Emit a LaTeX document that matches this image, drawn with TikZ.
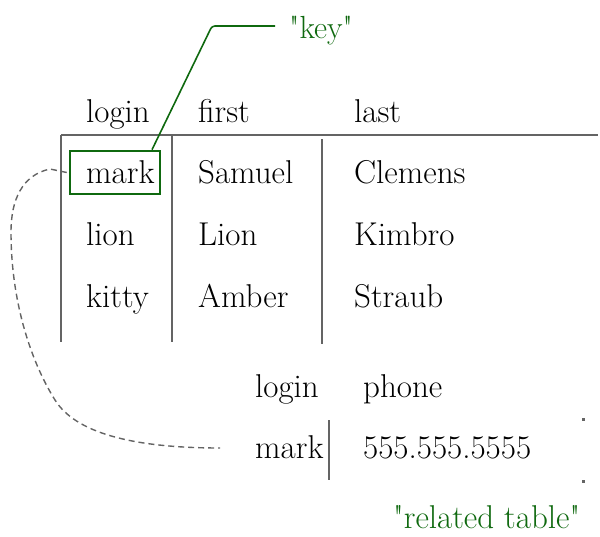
\documentclass[tikz,border=0pt]{standalone}
\definecolor{keygreen}{RGB}{15,105,15}
\definecolor{rulegray}{RGB}{100,100,100}
\tikzset{
  cell/.style={anchor=base west, inner sep=0pt, font=\fontsize{33}{39}\selectfont},
  note/.style={anchor=base west, inner sep=0pt, text=keygreen},
  rule/.style={draw=rulegray, line width=2pt},
  keybox/.style={draw=keygreen, line width=2.6pt, minimum width=90pt, minimum height=43pt, inner sep=0pt},
  leader/.style={draw=keygreen, line width=1.6pt, rounded corners=3pt},
  link/.style={draw=rulegray, line width=1.4pt, dash pattern=on 6pt off 4pt},
  speck/.style={fill=rulegray, minimum size=3pt, inner sep=0pt}
}
\begin{document}
\begin{tikzpicture}[x=1pt, y=-1pt]
\useasboundingbox (0,0) rectangle (600,536);

% main table: header
\node[cell] (hlogin) at (86,122) {login};
\node[cell] (hfirst) at (198,122) {first};
\node[cell] (hlast)  at (354,122) {last};

% main table: rules
\coordinate (tl) at (61,135);
\coordinate (tr) at (598,135);
\coordinate (c1top) at (61,135);
\coordinate (c1bot) at (61,342);
\coordinate (c2top) at (172,135);
\coordinate (c2bot) at (172,342);
\coordinate (c3top) at (322,139);
\coordinate (c3bot) at (322,344);
\draw[rule] (tl) -- (tr);
\draw[rule] (c1top) -- (c1bot);
\draw[rule] (c2top) -- (c2bot);
\draw[rule] (c3top) -- (c3bot);

% main table: rows
\node[cell] (mark)    at (86,183) {mark};
\node[cell] (samuel)  at (198,183) {Samuel};
\node[cell] (clemens) at (354,183) {Clemens};
\node[cell] (lion)    at (86,245) {lion};
\node[cell] (lionf)   at (198,245) {Lion};
\node[cell] (kimbro)  at (354,245) {Kimbro};
\node[cell] (kitty)   at (86,307) {kitty};
\node[cell] (amber)   at (198,307) {Amber};
\node[cell] (straub)  at (354,307) {Straub};

% key highlight and its label
\node[keybox] (keyframe) at (115,172.5) {};
\node[note, font=\fontsize{32}{38}\selectfont] (key) at (289,38) {\textquotedbl key\textquotedbl};
\coordinate (keytail) at (275,26);
\coordinate (bend) at (212,26);
\draw[leader] (keytail) -- (bend) -- ([xshift=37pt]keyframe.north);

% related table
\node[cell] (rlogin) at (255,397) {login};
\node[cell] (rphone) at (363,397) {phone};
\node[cell] (rmark)  at (255,458) {mark};
\node[cell] (rnum)   at (363,458) {555.555.5555};
\coordinate (rtop) at (329,420);
\coordinate (rbot) at (329,480);
\draw[rule] (rtop) -- (rbot);
\node[speck] (s1) at (583,419) {};
\node[speck] (s2) at (583,481) {};
\node[note, font=\fontsize{33}{39}\selectfont] (related) at (393,528) {\textquotedbl related table\textquotedbl};

% dashed link between the two login cells
\coordinate (linkend) at (220,448);
\draw[link] ([xshift=-2pt]keyframe.west) -- (50,169)
  .. controls (22,175) and (11,200) .. (11,232)
  .. controls (11,300) and (30,360) .. (55,400)
  .. controls (75,432) and (130,448) .. (linkend);
\end{tikzpicture}
\end{document}
